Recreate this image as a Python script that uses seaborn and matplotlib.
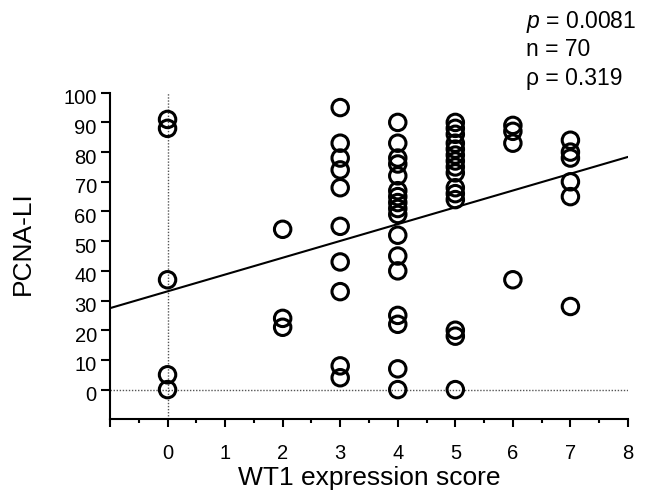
import numpy as np
import pandas as pd
import matplotlib
matplotlib.use("Agg")
import matplotlib.pyplot as plt
import matplotlib.transforms as mtransforms
from matplotlib.ticker import FixedLocator, FixedFormatter
import seaborn as sns

# PCNA-LI values, grouped by WT1 expression score
score_0 = [91, 88, 37, 5, 0]
score_2 = [54, 24, 21]
score_3 = [95, 83, 78, 74, 68, 55, 43, 33, 8, 4]
score_4 = [90, 83, 78, 76, 72, 67, 65, 63, 61, 59, 52, 45, 40, 25, 22, 7, 0]
score_5 = [90, 88, 86, 83, 81, 79, 77, 75, 73, 68, 66, 64, 20, 18, 0]
score_6 = [89, 87, 83, 37]
score_7 = [84, 80, 78, 70, 65, 28]

# fitted regression line
fit_intercept = 33.1
fit_slope = 5.66

x_tick_values = [-1, 0, 1, 2, 3, 4, 5, 6, 7, 8]
x_tick_labels = ["", "0", "1", "2", "3", "4", "5", "6", "7", "8"]
y_tick_values = [0, 10, 20, 30, 40, 50, 60, 70, 80, 90, 100]

stats_lines = [r"$\mathit{p}$ = 0.0081", "n = 70", "ρ = 0.319"]


def main():
    groups = {0: score_0, 2: score_2, 3: score_3, 4: score_4,
              5: score_5, 6: score_6, 7: score_7}
    df = pd.DataFrame(
        [(k, v) for k, vals in groups.items() for v in vals],
        columns=["wt1", "pcna"],
    )

    sns.set_style("ticks")
    plt.rcParams["font.family"] = ["Liberation Sans", "DejaVu Sans"]
    plt.rcParams["mathtext.fontset"] = "custom"
    plt.rcParams["mathtext.rm"] = "Liberation Sans"
    plt.rcParams["mathtext.it"] = "Liberation Sans:italic"
    for key in ["text.color", "axes.labelcolor", "xtick.color", "ytick.color"]:
        plt.rcParams[key] = "black"

    fig = plt.figure(figsize=(6.47, 4.94), dpi=100)
    ax = fig.add_axes([0.170, 0.1512, 0.8006, 0.6611])

    # dotted reference lines
    ax.axvline(0, color="#555555", linestyle=(0, (1, 1.2)), linewidth=1.0, zorder=1)
    ax.axhline(0, color="#555555", linestyle=(0, (1, 1.2)), linewidth=1.0, zorder=1)

    # regression line
    line_x = np.array([-1, 8])
    sns.lineplot(x=line_x, y=fit_intercept + fit_slope * line_x,
                 color="black", linewidth=1.5, ax=ax, zorder=2)

    sns.scatterplot(
        data=df, x="wt1", y="pcna",
        marker="o", s=140, facecolor="none", edgecolor="black",
        linewidth=2.2, ax=ax, zorder=3, legend=False,
    )

    ax.set_xlim(-1, 8)
    ax.set_ylim(-10, 100)
    ax.xaxis.set_major_locator(FixedLocator(x_tick_values))
    ax.xaxis.set_major_formatter(FixedFormatter(x_tick_labels))
    ax.xaxis.set_minor_locator(FixedLocator(np.arange(-0.5, 8, 1.0)))
    ax.yaxis.set_major_locator(FixedLocator(y_tick_values))

    ax.tick_params(axis="x", which="major", length=5.8, width=1.5, pad=12,
                   labelsize=14.5, color="black", labelcolor="black")
    ax.tick_params(axis="x", which="minor", length=3.0, width=1.5, color="black")
    ax.tick_params(axis="y", which="major", length=6.5, width=1.5, pad=3,
                   labelsize=14.5, color="black", labelcolor="black")

    # y labels sit a little below their ticks in the original
    offset = mtransforms.ScaledTranslation(0, -4 / 100, fig.dpi_scale_trans)
    for lab in ax.get_yticklabels():
        lab.set_transform(lab.get_transform() + offset)

    for side in ["left", "bottom"]:
        ax.spines[side].set_linewidth(1.5)
        ax.spines[side].set_color("black")
    sns.despine(ax=ax)

    ax.set_xlabel("WT1 expression score", fontsize=19, labelpad=2, color="black")
    ax.set_ylabel("PCNA-LI", fontsize=19, color="black")
    ax.yaxis.set_label_coords(-0.145, 0.539)

    for i, txt in enumerate(stats_lines):
        fig.text(526 / 647, 1 - (21.7 + 28.2 * i) / 494, txt,
                 fontsize=16.5, ha="left", va="center", color="black")

    fig.savefig("out.png", dpi=100)
    plt.close(fig)


if __name__ == "__main__":
    main()
